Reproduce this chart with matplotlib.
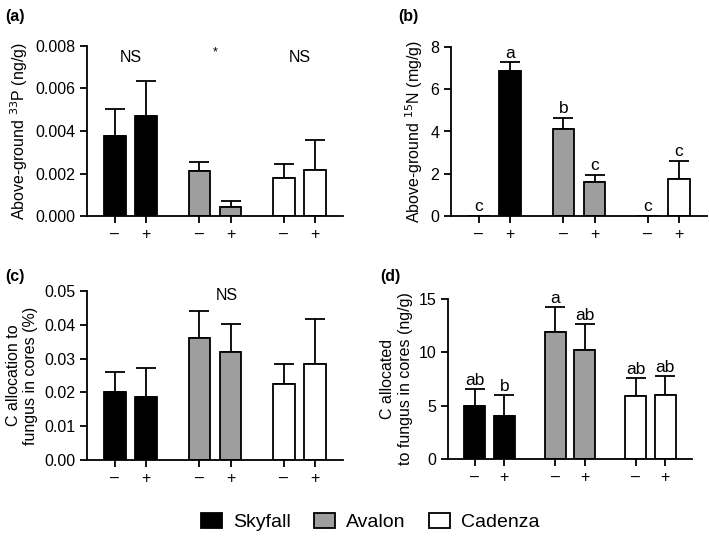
import matplotlib
matplotlib.use("Agg")
import matplotlib.pyplot as plt
from matplotlib.patches import Patch

plt.rcParams['font.family'] = ['Liberation Sans', 'DejaVu Sans']

cultivars = ["Skyfall", "Avalon", "Cadenza"]
colors = ["#000000", "#9e9e9e", "#ffffff"]
tick_labels = ["\u2013", "+", "\u2013", "+", "\u2013", "+"]
positions = [0, 1, 2.72, 3.72, 5.44, 6.44]

# (a) Above-ground 33P (ng/g)
a_mean = [0.00376, 0.00471, 0.00213, 0.00044, 0.00179, 0.00218]
a_top = [0.00502, 0.00637, 0.00254, 0.00071, 0.00245, 0.00356]
# (b) Above-ground 15N (mg/g)
b_mean = [0.0, 6.87, 4.14, 1.62, 0.0, 1.76]
b_top = [0.0, 7.28, 4.66, 1.94, 0.0, 2.61]
b_letters = ["c", "a", "b", "c", "c", "c"]
# (c) C allocation to fungus in cores (%)
c_mean = [0.0200, 0.0185, 0.0360, 0.0320, 0.0224, 0.0283]
c_top = [0.0261, 0.0271, 0.0441, 0.0402, 0.0283, 0.0418]
# (d) C allocated to fungus in cores (ng/g)
d_mean = [4.94, 4.06, 11.94, 10.22, 5.91, 6.03]
d_top = [6.56, 5.97, 14.22, 12.66, 7.59, 7.81]
d_letters = ["ab", "b", "a", "ab", "ab", "ab"]

W, H = 709, 538
fig = plt.figure(figsize=(W / 100, H / 100), dpi=100)

def make_ax(l, r, t, b):
    return fig.add_axes([l / W, 1 - b / H, (r - l) / W, (b - t) / H])

FS = 11.5

def draw(ax, mean, top, ylim, yticks, yfmt):
    bar_colors = [colors[i // 2] for i in range(6)]
    ax.bar(positions, mean, width=0.7, color=bar_colors, edgecolor="black",
           linewidth=1.3, zorder=2)
    errs = [t - m for t, m in zip(top, mean)]
    for x, m, e in zip(positions, mean, errs):
        if e > 0:
            ax.errorbar([x], [m], yerr=[[0], [e]], fmt="none", ecolor="black",
                        elinewidth=1.3, capsize=7.5, capthick=1.3, zorder=1)
    ax.set_xlim(-0.9, positions[-1] + 0.9)
    ax.set_ylim(*ylim)
    ax.set_yticks(yticks)
    ax.set_yticklabels([yfmt.format(v) for v in yticks], fontsize=FS)
    ax.set_xticks(positions)
    ax.set_xticklabels(tick_labels, fontsize=FS)
    for s in ["top", "right"]:
        ax.spines[s].set_visible(False)
    for s in ["left", "bottom"]:
        ax.spines[s].set_linewidth(1.3)
    ax.tick_params(axis="both", direction="out", length=5, width=1.3)
    ax.tick_params(axis="x", pad=3)
    ax.margins(y=0)

axa = make_ax(87, 343, 46, 216)
draw(axa, a_mean, a_top, (0, 0.008), [0, 0.002, 0.004, 0.006, 0.008], "{:.3f}")
axa.set_ylabel("Above-ground $^{33}$P (ng/g)", fontsize=FS)
axa.text(0.5, 0.0071, "NS", ha="center", va="bottom", fontsize=FS)
axa.text(3.22, 0.0074, "*", ha="center", va="bottom", fontsize=9)
axa.text(5.94, 0.0071, "NS", ha="center", va="bottom", fontsize=FS)

axb = make_ax(451, 707, 47, 216)
draw(axb, b_mean, b_top, (0, 8), [0, 2, 4, 6, 8], "{:.0f}")
axb.set_ylabel("Above-ground $^{15}$N (mg/g)", fontsize=FS)
for x, t, l in zip(positions, b_top, b_letters):
    axb.text(x, t + 0.08, l, ha="center", va="bottom", fontsize=FS + 1)

axc = make_ax(87, 343, 291, 460)
draw(axc, c_mean, c_top, (0, 0.05), [0, 0.01, 0.02, 0.03, 0.04, 0.05], "{:.2f}")
axc.set_ylabel("C allocation to\nfungus in cores (%)", fontsize=FS)
axc.text(3.6, 0.0465, "NS", ha="center", va="bottom", fontsize=FS)

axd = make_ax(448, 692, 299, 459)
draw(axd, d_mean, d_top, (0, 15), [0, 5, 10, 15], "{:.0f}")
axd.set_ylabel("C allocated\nto fungus in cores (ng/g)", fontsize=FS)
for x, t, l in zip(positions, d_top, d_letters):
    axd.text(x, t + 0.1, l, ha="center", va="bottom", fontsize=FS + 1)

for ax, lab, x, y in [(axa, "(a)", 5, 17), (axb, "(b)", 398, 17),
                      (axc, "(c)", 5, 277), (axd, "(d)", 380, 277)]:
    fig.text(x / W, 1 - y / H, lab, fontsize=FS, fontweight="bold",
             ha="left", va="center")

handles = [Patch(facecolor=c, edgecolor="black", linewidth=1.3) for c in colors]
fig.legend(handles, cultivars, loc="center", ncol=3, frameon=False,
           bbox_to_anchor=(370 / W, 1 - 522 / H), fontsize=14,
           handlelength=1.1, handleheight=0.85, columnspacing=1.2,
           handletextpad=0.55)

fig.savefig("out.png", dpi=100)
